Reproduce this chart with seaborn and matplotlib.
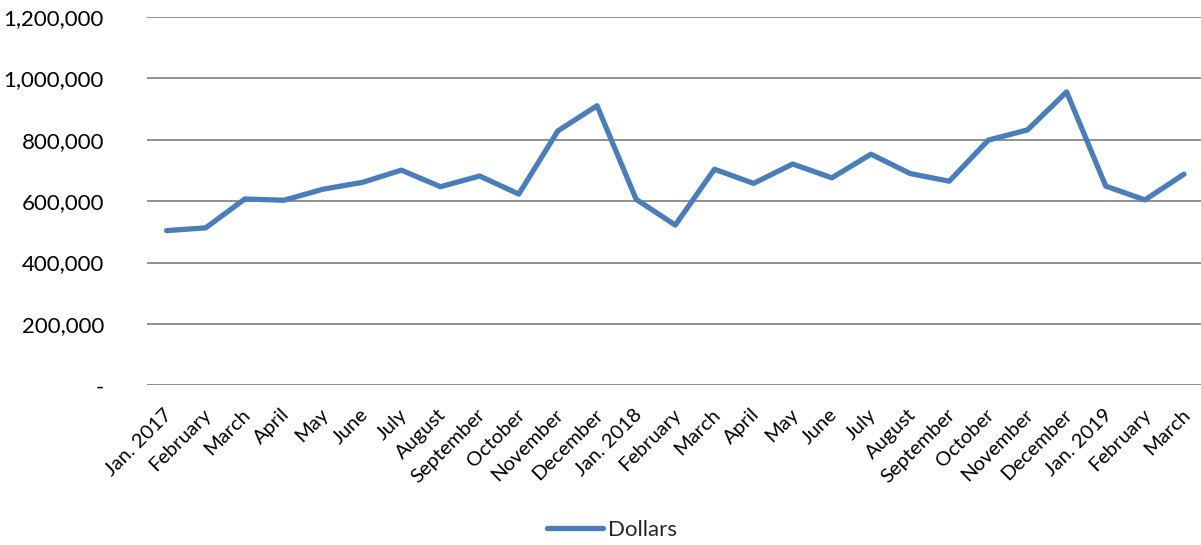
import numpy as np
import pandas as pd
import matplotlib
matplotlib.use("Agg")
import matplotlib.pyplot as plt
import matplotlib.ticker as mticker
import matplotlib.transforms as mtrans
import seaborn as sns

months = ["Jan. 2017", "February", "March", "April", "May", "June", "July",
          "August", "September", "October", "November", "December",
          "Jan. 2018", "February", "March", "April", "May", "June", "July",
          "August", "September", "October", "November", "December",
          "Jan. 2019", "February", "March"]
dollars = [504000, 513000, 607000, 603000, 639000, 661000, 701000,
           647000, 682000, 623000, 829000, 911000,
           606000, 522000, 704000, 658000, 721000, 676000, 753000,
           690000, 665000, 799000, 832000, 956000,
           649000, 604000, 688000]
series_name = "Dollars"
y_ticks = [0, 200000, 400000, 600000, 800000, 1000000, 1200000]

df = pd.DataFrame({"idx": np.arange(len(months)), "value": dollars})

sns.set_theme(style="white")
plt.rcParams["font.family"] = ["Lato", "DejaVu Sans"]

fig = plt.figure(figsize=(12.01, 5.45), dpi=100)
ax = fig.add_axes([147 / 1201, 1 - 385.3 / 545, (1203.6 - 147) / 1201, (385.3 - 17) / 545])

sns.lineplot(data=df, x="idx", y="value", ax=ax, color="#4a7ebb", linewidth=3.8,
             label=series_name, legend=False)

ax.set_xlim(-0.5, len(months) - 0.5)
ax.set_ylim(0, 1200000)
ax.set_yticks(y_ticks)
ax.yaxis.set_major_formatter(mticker.FuncFormatter(lambda v, p: "-" if v == 0 else f"{v:,.0f}"))
ax.set_xticks(np.arange(len(months)))
ax.set_xticklabels(months, rotation=45, ha="right", va="center", rotation_mode="anchor")
ax.set_xlabel("")
ax.set_ylabel("")

ax.grid(axis="y", color="#878787", linewidth=1.3)
ax.set_axisbelow(True)
for s in ax.spines.values():
    s.set_visible(False)
ax.tick_params(axis="y", length=0, pad=31, labelsize=16, labelcolor="#000000")
ax.tick_params(axis="x", length=0, pad=19, labelsize=14.5, labelcolor="#000000")

offset = mtrans.ScaledTranslation(3 / 100, 0, fig.dpi_scale_trans)
for lbl in ax.get_xticklabels():
    lbl.set_transform(lbl.get_transform() + offset)

handles, labels = ax.get_legend_handles_labels()
fig.legend(handles, labels, loc="center", bbox_to_anchor=(612 / 1201, 1 - 530 / 545),
           frameon=False, fontsize=16, handlelength=2.5, handletextpad=0.25)

fig.savefig("out.png", dpi=100)
